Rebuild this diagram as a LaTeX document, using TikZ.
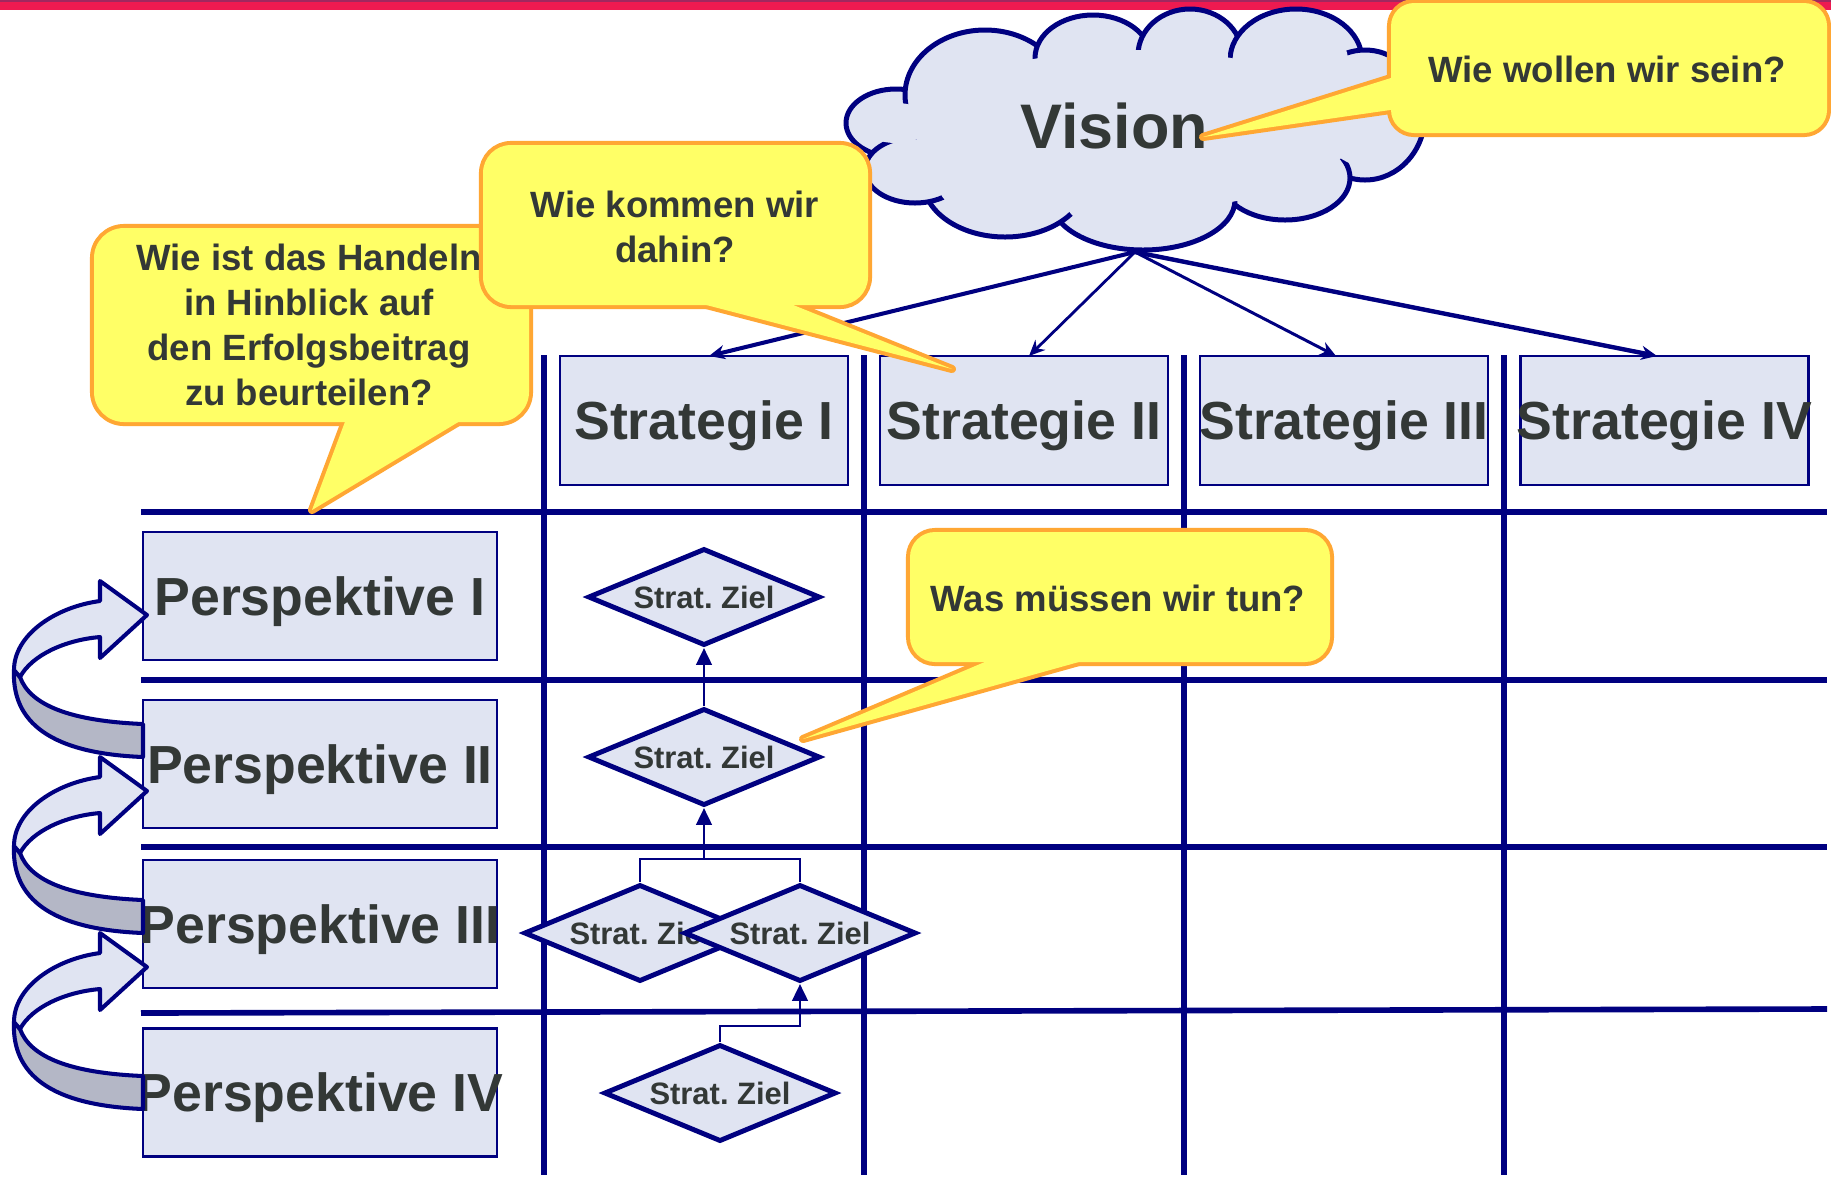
\documentclass[tikz,border=0pt]{standalone}
\usepackage{fontspec}
\setmainfont{Liberation Sans}
\usetikzlibrary{shapes.geometric,arrows.meta}
\definecolor{navy}{RGB}{0,0,128}
\definecolor{lav}{RGB}{224,228,242}
\definecolor{greyband}{RGB}{180,183,198}
\definecolor{txt}{RGB}{51,56,54}
\definecolor{cyellow}{RGB}{255,255,102}
\definecolor{corange}{RGB}{255,167,51}
\definecolor{topred}{RGB}{238,26,80}
\definecolor{topdark}{RGB}{160,40,95}
\frenchspacing
\begin{document}
\begin{tikzpicture}[x=0.01cm,y=-0.01cm,
  gridline/.style={navy,line width=1.6pt},
  bigbox/.style={draw=navy,line width=0.75pt,fill=lav,inner sep=0pt,outer sep=0pt,
    text=txt,font=\bfseries\fontsize{15.25}{18}\selectfont,text height=10.92pt,text depth=0pt},
  pbox/.style={bigbox,minimum width=3.54cm,minimum height=1.28cm},
  sbox/.style={bigbox,minimum width=2.88cm,minimum height=1.29cm},
  zielbox/.style={diamond,aspect=2.4,draw=navy,line width=1.4pt,fill=lav,inner sep=0pt,
    minimum width=2.32cm,minimum height=0.97cm,text=txt,
    font=\bfseries\fontsize{8.8}{10}\selectfont,text height=6.3pt,text depth=0pt},
  conn/.style={navy,line width=0.8pt},
  conntip/.style={conn,-{Triangle[length=4.8pt,width=4.4pt]}},
  varrow/.style={navy,-{Stealth[length=4.5pt,width=4pt]}},
  cloudline/.style={draw=navy,line width=1.42pt,fill=lav},
  cbord/.style={draw=corange,line width=2.3pt,line join=round},
  cfill/.style={fill=cyellow},
  ctext/.style={text=txt,font=\bfseries\fontsize{10.4}{12}\selectfont,anchor=base,inner sep=0pt},
  backband/.style={fill=greyband,draw=navy,line width=1.15pt,line join=round},
  frontband/.style={fill=lav,draw=navy,line width=1.15pt,line join=round},
]
\useasboundingbox (0,0) rectangle (1831,1184);
\fill[white] (0,0) rectangle (1831,1184);
% top bar
\fill[topred] (0,0) rectangle (1831,9.5);
\fill[topdark] (0,0) rectangle (1831,1.7);
% grid
\foreach \yy in {512,680,847} \draw[gridline] (141,\yy) -- (1827,\yy);
\draw[gridline] (141,1013) -- (1827,1009);
\foreach \xx in {544,864,1184,1504} \draw[gridline] (\xx,355) -- (\xx,1175);
% strategy boxes
\node[sbox] (S1) at (704,420.5) {\makebox[0pt]{Strategie I}};
\node[sbox] (S2) at (1024,420.5) {\makebox[0pt]{Strategie II}};
\node[sbox] (S3) at (1344,420.5) {\makebox[0pt]{Strategie III}};
\node[sbox] (S4) at (1664.5,420.5) {\makebox[0pt]{Strategie IV}};
% perspective boxes
\node[pbox] (P1) at (320,596) {\makebox[0pt]{Perspektive I}};
\node[pbox] (P2) at (320,764) {\makebox[0pt]{Perspektive II}};
\node[pbox] (P3) at (320,924) {\makebox[0pt]{Perspektive III}};
\node[pbox] (P4) at (320,1092.5) {\makebox[0pt]{Perspektive IV}};
% diamonds
\node[zielbox] (D0) at (704,597) {\makebox[0pt]{Strat. Ziel}};
\node[zielbox] (D1) at (704,757) {\makebox[0pt]{Strat. Ziel}};
\node[zielbox] (D3a) at (640,933) {\makebox[0pt]{Strat. Ziel}};
\node[zielbox] (D3b) at (800,933) {\makebox[0pt]{Strat. Ziel}};
\node[zielbox] (D4) at (720,1093) {\makebox[0pt]{Strat. Ziel}};
% diamond connectors
\draw[conntip] (D1.north) -- (D0.south);
\coordinate (J3) at (704,859);
\draw[conn] (D3a.north) |- (J3) -| (D3b.north);
\draw[conntip] (J3) -- (D1.south);
\draw[conntip] (D4.north) -- ++(0,-16) -| (D3b.south);
% arrows from vision
\coordinate (V) at (1135,252);
\draw[varrow,line width=1.15pt] (V) -- ([xshift=0.05cm]S1.north);
\draw[varrow,line width=0.8pt] (V) -- ([xshift=0.05cm]S2.north);
\draw[varrow,line width=0.85pt] (V) -- ([xshift=-0.08cm]S3.north);
\draw[varrow,line width=1.25pt] (V) -- ([xshift=-0.075cm]S4.north);
% cloud
\foreach \cx/\cy/\rx/\ry in {896/123/50/34, 985/95/80/65, 1093/58/58/43, 1190/55/52/46, 1296/60/66/51, 1365/115/60/65, 1285/178/65/42, 1143/200/92/50, 1005/180/82/57, 915/170/50/33}
  \filldraw[cloudline] (\cx,\cy) ellipse [x radius=\rx, y radius=\ry];
\foreach \cx/\cy/\rx/\ry in {896/123/50/34, 985/95/80/65, 1093/58/58/43, 1190/55/52/46, 1296/60/66/51, 1365/115/60/65, 1285/178/65/42, 1143/200/92/50, 1005/180/82/57, 915/170/50/33}
  \fill[lav] (\cx,\cy) ellipse [x radius=\rx-14, y radius=\ry-14];
\fill[lav] (1135,130) ellipse [x radius=220, y radius=80];
\node[text=txt,font=\bfseries\fontsize{17.9}{20}\selectfont,anchor=base,inner sep=0pt] (vis) at (1114,148) {Vision};
% curved arrows
\foreach \yy in {615,791,967} {
  \begin{scope}[shift={(0,\yy)}]
    \filldraw[backband] (14,55) .. controls (12,100) and (40,138) .. (143,142) -- (143,109) .. controls (70,106) and (30,90) .. (20,62) -- cycle;
    \filldraw[frontband] (147,0) -- (100,-34) -- (100,-14) .. controls (55,-8) and (14,20) .. (14,55) -- (20,62) .. controls (32,40) and (65,25) .. (100,22) -- (100,43) -- cycle;
  \end{scope}
}
% callout: Wie wollen wir sein?
\draw[cbord,rounded corners=0.23cm] (1391,3) rectangle (1827,133);
\draw[cbord] (1410,72) -- (1203,137) -- (1411,107);
\fill[cfill,rounded corners=0.23cm] (1391,3) rectangle (1827,133);
\fill[cfill] (1410,72) -- (1203,137) -- (1411,107) -- cycle;
\node[ctext] (t1) at (1607,82) {Wie wollen wir sein?};
% callout: Wie ist das Handeln
\draw[cbord,rounded corners=0.3cm] (94,228) rectangle (529,422);
\draw[cbord] (352,403) -- (312,510) -- (475,412);
\fill[cfill,rounded corners=0.3cm] (94,228) rectangle (529,422);
\fill[cfill] (352,403) -- (312,510) -- (475,412) -- cycle;
\node[ctext] (t31) at (309,270) {Wie ist das Handeln};
\node[ctext] (t32) at (309,315) {in Hinblick auf};
\node[ctext] (t33) at (309,360) {den Erfolgsbeitrag};
\node[ctext] (t34) at (309,405) {zu beurteilen?};
% callout: Wie kommen wir dahin?
\draw[cbord,rounded corners=0.28cm] (483,145) rectangle (868,305);
\draw[cbord] (668,295) -- (952,369) -- (766,294);
\fill[cfill,rounded corners=0.28cm] (483,145) rectangle (868,305);
\fill[cfill] (668,295) -- (952,369) -- (766,294) -- cycle;
\node[ctext] (t21) at (675,217) {Wie kommen wir};
\node[ctext] (t22) at (675,262) {dahin?};
% callout: Was muessen wir tun?
\draw[cbord,rounded corners=0.25cm] (910,532) rectangle (1330,662);
\draw[cbord] (1013,650) -- (803,739) -- (1111,653);
\fill[cfill,rounded corners=0.25cm] (910,532) rectangle (1330,662);
\fill[cfill] (1013,650) -- (803,739) -- (1111,653) -- cycle;
\node[ctext] (t4) at (1118,611) {Was müssen wir tun?};
\end{tikzpicture}
\end{document}
